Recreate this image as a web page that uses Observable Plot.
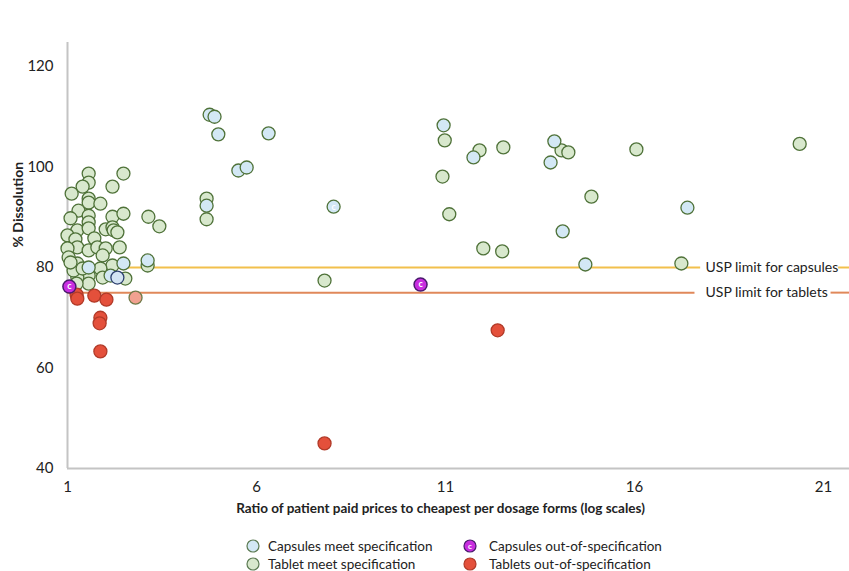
<!DOCTYPE html>
<html><head><meta charset="utf-8">
<script src="https://cdn.jsdelivr.net/npm/d3@7"></script>
<script src="https://cdn.jsdelivr.net/npm/@observablehq/plot@0.6"></script>
<style>
body{margin:0;background:#fff;font-family:Lato,"Open Sans",sans-serif;}
#wrap{position:relative;width:849px;}
.legend{position:relative;width:849px;height:41px;font-size:13.5px;color:#222;}
.item{position:absolute;display:flex;align-items:center;height:18px;white-space:nowrap;}
.item svg{margin-right:8px;}
</style></head><body>
<div id="wrap"></div>
<script>
// ---- data ----
const xTicks = [1, 6, 11, 16, 21];
const yTicks = [40, 60, 80, 100, 120];

const tabletsMeet = [
  [1.56,98.7],[2.48,98.7],[1.56,96.9],[1.40,96.1],[2.19,96.1],[1.11,94.7],[1.56,93.7],[1.56,92.9],
  [1.87,92.7],[1.29,91.3],[1.56,90.3],[1.08,89.8],[2.19,90.1],[2.48,90.7],[3.14,90.1],[3.43,88.2],
  [1.56,89.0],[1.26,87.4],[1.56,87.8],[2.01,87.6],[2.19,88.0],[2.22,87.4],[2.32,87.0],[1.00,86.4],
  [1.21,85.6],[1.71,85.8],[1.26,84.0],[1.00,83.8],[1.56,83.4],[1.79,84.0],[2.01,83.8],[2.38,84.0],
  [1.03,82.0],[1.93,82.4],[1.26,80.8],[2.19,80.4],[1.87,79.8],[1.56,78.4],[1.26,78.0],[1.93,78.0],
  [2.53,77.8],[1.56,76.8],[1.24,76.8],[3.12,80.4],[1.16,79.4],[1.40,79.8],[1.08,81.0],
  [4.68,93.7],[4.68,89.6],[7.80,77.4],
  [10.98,105.3],[11.90,103.3],[12.53,103.9],[14.07,103.3],[14.25,102.9],[16.05,103.5],[20.37,104.6],
  [10.92,98.1],[14.86,94.1],[11.10,90.6],[12.00,83.8],[12.50,83.2],[17.24,80.8]
];
const capsulesMeet = [
  [1.56,80.0],[2.48,80.8],[2.14,78.4],[3.12,81.4],
  [4.76,110.4],[4.89,110.0],[4.99,106.5],[6.32,106.7],[5.52,99.3],[5.74,99.9],[4.68,92.3],[8.04,92.1],
  [10.95,108.3],[11.74,101.9],[13.88,105.1],[13.78,100.9],[17.40,91.9],[14.10,87.2],[14.70,80.6]
];
const capsulesMeetDarkOutline = [[2.32,78.0]];
const capsulesMeetMarked = [[8.04,92.1]];
const tabletsOOS = [
  [1.24,74.6],[1.26,73.8],[1.71,74.4],[2.03,73.6],[1.87,70.0],[1.85,68.9],[1.87,63.3],[12.38,67.5],[7.80,45.0]
];
const tabletsOOSFaded = [[2.80,74.0]];
const capsulesOOS = [[1.05,76.2],[10.34,76.6]];

const limits = [
  {label:"USP limit for capsules", value:80, color:"#f2c04c"},
  {label:"USP limit for tablets", value:75, color:"#e0885a"}
];
const legendItems = [
  {label:"Capsules meet specification", fill:"#d3e8f5", stroke:"#5b7a52", c:false},
  {label:"Tablet meet specification", fill:"#d8e8cd", stroke:"#5b7a52", c:false},
  {label:"Capsules out-of-specification", fill:"#c92ee0", stroke:"#4a1a6e", c:true},
  {label:"Tablets out-of-specification", fill:"#e4503b", stroke:"#b13a28", c:false}
];

// ---- layout ----
const layout = {
  lineEnd: {80: 17.75, 75: 17.6},
  labelX: 17.88,
  dashStart: {80: 21.4, 75: 21.2},
  xEdge: 21.7,
  yTop: 124.8
};

const X = d => d[0], Y = d => d[1];
const dotStyle = {r: 6.5, strokeWidth: 1.3};

const chart = Plot.plot({
  width: 849, height: 530,
  marginLeft: 67, marginRight: 26, marginTop: 66, marginBottom: 62,
  style: {fontFamily: "Lato, 'Open Sans', sans-serif", fontSize: "14px", color: "#222", background: "#fff"},
  x: {domain: [1, 21], label: null},
  y: {domain: [40, 120], label: null},
  marks: [
    Plot.ruleX([1], {y1: 40, y2: layout.yTop, stroke: "#c4c4c4", strokeWidth: 2}),
    Plot.ruleY([40], {x1: 1, x2: layout.xEdge, stroke: "#c4c4c4", strokeWidth: 2}),
    Plot.axisX(xTicks, {tickSize: 0, tickPadding: 13, fontSize: 15, label: null}),
    Plot.axisY(yTicks, {tickSize: 0, tickPadding: 14, fontSize: 15, label: null}),
    Plot.ruleY(limits, {y: "value", x1: 1, x2: d => layout.lineEnd[d.value], stroke: "color", strokeWidth: 2}),
    Plot.ruleY(limits, {y: "value", x1: d => layout.dashStart[d.value], x2: layout.xEdge, stroke: "color", strokeWidth: 2}),
    Plot.text(limits, {x: layout.labelX, y: "value", text: "label", textAnchor: "start", fill: "#222", fontSize: 14}),
    Plot.dot(tabletsMeet, {x: X, y: Y, ...dotStyle, fill: "#d8e8cd", stroke: "#4f7239"}),
    Plot.dot(capsulesMeet, {x: X, y: Y, ...dotStyle, fill: "#d3e8f5", stroke: "#4f7239"}),
    Plot.dot(capsulesMeetDarkOutline, {x: X, y: Y, ...dotStyle, fill: "#d3e3f3", stroke: "#2c3f6e"}),
    Plot.text(capsulesMeetMarked, {x: X, y: Y, text: () => "c", fill: "#fff", fontSize: 9, fontWeight: "bold"}),
    Plot.dot(tabletsOOSFaded, {x: X, y: Y, ...dotStyle, fill: "#f1a190", stroke: "#6f7a48"}),
    Plot.dot(tabletsOOS, {x: X, y: Y, ...dotStyle, fill: "#e4503b", stroke: "#b13a28"}),
    Plot.dot(capsulesOOS, {x: X, y: Y, ...dotStyle, fill: "#c92ee0", stroke: "#4a1a6e", strokeWidth: 1.5}),
    Plot.text(capsulesOOS, {x: X, y: Y, text: () => "c", fill: "#fff", fontSize: 9, fontWeight: "bold"}),
    Plot.text(["% Dissolution"], {frameAnchor: "left", rotate: -90, dx: -49, dy: -20, fontWeight: "bold", fontSize: 14, fill: "#222"}),
    Plot.text(["Ratio of patient paid prices to cheapest per dosage forms (log scales)"], {frameAnchor: "bottom", dy: 44, dx: -5, fontWeight: "bold", fontSize: 13.5, fill: "#222"})
  ]
});

const wrap = document.getElementById("wrap");
wrap.appendChild(chart);

// ---- legend (HTML below the SVG) ----
const legend = document.createElement("div");
legend.className = "legend";
const pos = [[246, 7], [246, 25], [463, 7], [463, 25]];
legendItems.forEach((it, i) => {
  const el = document.createElement("div");
  el.className = "item";
  el.style.left = pos[i][0] + "px";
  el.style.top = pos[i][1] + "px";
  el.innerHTML = `<svg width="14" height="14" viewBox="0 0 14 14"><circle cx="7" cy="7" r="6" fill="${it.fill}" stroke="${it.stroke}" stroke-width="1.2"/>${it.c ? '<text x="7" y="7" dy="0.35em" text-anchor="middle" fill="#fff" font-size="8" font-weight="bold">c</text>' : ''}</svg><span style="margin-left:${i>=2?4:0}px">${it.label}</span>`;
  legend.appendChild(el);
});
wrap.appendChild(legend);
</script>
</body></html>
